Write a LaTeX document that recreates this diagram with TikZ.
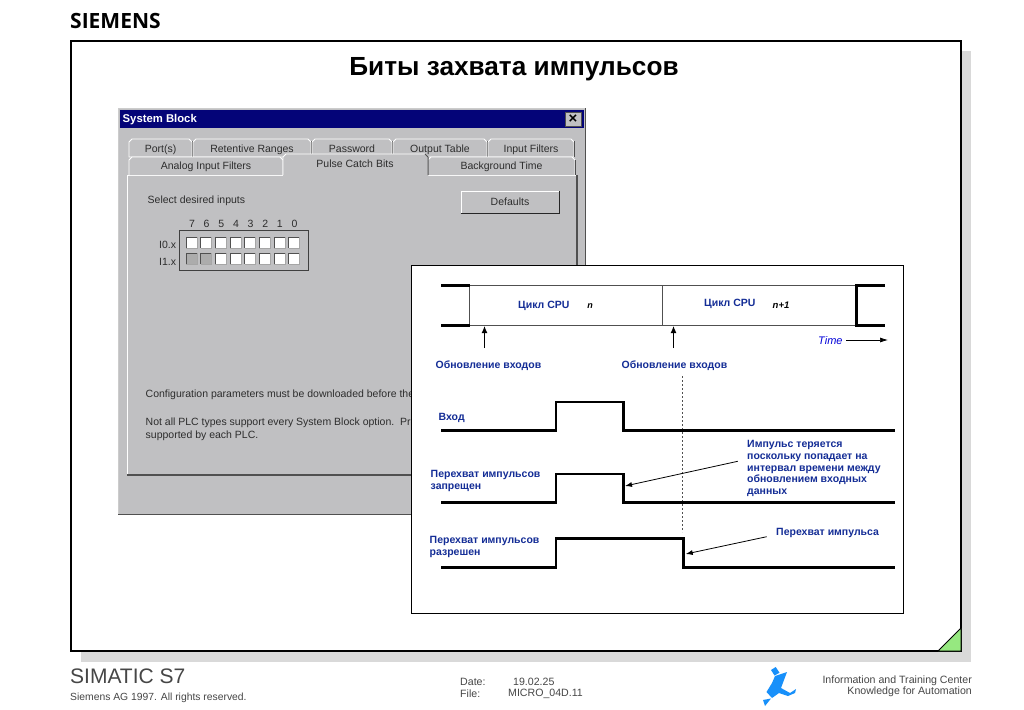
\documentclass[tikz,border=0pt]{standalone}
\usepackage{fontspec}
\setmainfont{Liberation Sans}
\newfontfamily\brandfont{Open Sans}
\usetikzlibrary{arrows.meta}
\definecolor{dlg}{RGB}{192,192,194}
\definecolor{shad}{RGB}{217,217,217}
\definecolor{tbar}{RGB}{4,4,120}
\definecolor{lblue}{RGB}{20,45,150}
\definecolor{corner}{RGB}{150,232,128}
\definecolor{logo}{RGB}{24,144,250}
\definecolor{gtxt}{RGB}{45,45,45}
\definecolor{ftxt}{RGB}{70,70,70}
\definecolor{dkg}{RGB}{80,80,80}
\definecolor{gchk}{RGB}{172,172,172}
\tikzset{
 lbl/.style={font=\fontsize{10.5}{11.6}\selectfont\bfseries,text=lblue,inner sep=0pt,anchor=west,align=left},
 dtxt/.style={font=\fontsize{10.5}{13}\selectfont,text=gtxt,inner sep=0pt,anchor=west,align=left},
 dtab/.style={font=\fontsize{10.5}{11}\selectfont,text=gtxt,inner sep=0pt},
 tabshape/.style={fill=dlg,draw=white,line width=0.8pt},
 sig/.style={line width=2.1pt,line join=miter},
 frameline/.style={line width=1pt,draw=dkg},
 upd/.style={line width=1.1pt,-{Latex[length=7pt,width=6pt]}},
 pointer/.style={line width=0.8pt,-{Latex[length=7pt,width=5pt]}},
 foot/.style={font=\fontsize{10.6}{11}\selectfont,text=ftxt,inner sep=0pt}
}
\newcommand{\chkbox}[3]{%
 \fill[#3] (#1,#2) rectangle +(11,11);
 \draw[dkg,line width=0.8pt] (#1,#2+11) -- (#1,#2) -- (#1+11,#2);
 \draw[gray!70,line width=0.5pt] (#1+11,#2) -- (#1+11,#2+11) -- (#1,#2+11);
}
\begin{document}
\begin{tikzpicture}[x=1pt,y=-1pt]
\useasboundingbox (0,0) rectangle (1024,709);
\fill[white] (0,0) rectangle (1024,709);
% page
\node[font=\fontsize{21}{21}\brandfont\bfseries,inner sep=0pt,anchor=west] (brand) at (70,21) {SIEMENS};
\fill[shad] (81,51) rectangle (971,662);
\draw[fill=white,line width=1.1pt] (71,41) rectangle (961,651);
\fill[corner,draw=black,line width=0.8pt] (938,651) -- (961,628) -- (961,651) -- cycle;
\node[font=\fontsize{26.2}{26.2}\selectfont\bfseries,inner sep=0pt] (title) at (514,69) {Биты захвата импульсов};
% dialog
\fill[dlg] (118.5,108.5) rectangle (585,514);
\draw[gray!40,line width=0.8pt] (118.5,514) -- (118.5,108.5) -- (585,108.5);
\draw[dkg,line width=1pt] (118,514) -- (585,514) -- (585,108);
\fill[tbar] (120,110) rectangle (584,128);
\node[font=\fontsize{11.3}{11.3}\selectfont\bfseries,text=white,inner sep=0pt,anchor=west] (st) at (122.5,120) {System Block};
\node[draw=dkg,fill=dlg,minimum width=16pt,minimum height=14pt,inner sep=0pt,line width=0.5pt,font=\fontsize{15}{15}\selectfont\bfseries] (xb) at (573,119) {×};
% tabs rear
\foreach \a/\b/\n/\c in {129/192/t1/Port(s),193/311/t2/Retentive Ranges,312/392/t3/Password,393/487/t4/Output Table,488/574/t5/Input Filters}{
 \path[tabshape] (\a,157) -- (\a,142) -- (\a+3,139) -- (\b-3,139) -- (\b,142) -- (\b,157) -- cycle;
 \draw[dkg,line width=1pt] (\b,141) -- (\b,157);
 \node[dtab,anchor=base] (\n) at ({(\a+\b)/2},152) {\c};
}
% panel
\fill[dlg] (127,175) rectangle (577,475);
\draw[white,line width=0.9pt] (127,475) -- (127,175) -- (577,175);
\draw[dkg,line width=1.1pt] (127,475) -- (577,475) -- (577,175);
% tabs front
\foreach \a/\b/\n/\c in {129/283/t6/Analog Input Filters,428/575/t7/Background Time}{
 \path[tabshape] (\a,175) -- (\a,160) -- (\a+3,157) -- (\b-3,157) -- (\b,160) -- (\b,175);
 \node[dtab,anchor=base] (\n) at ({(\a+\b)/2},169.5) {\c};
}
\draw[dkg,line width=1pt] (575,160) -- (575,175);
\path[fill=dlg] (283,177) -- (283,157) -- (286,154) -- (425,154) -- (428,157) -- (428,177) -- cycle;
\draw[white,line width=0.9pt] (283,175) -- (283,157) -- (286,154) -- (425,154);
\draw[dkg,line width=1pt] (425,154) -- (428,157) -- (428,175);
\node[dtab,anchor=base] (t8) at (355,167.5) {Pulse Catch Bits};
\node[dtxt] (sel) at (147.5,201) {Select desired inputs};
\node[fill=dlg,minimum width=99pt,minimum height=23pt,inner sep=0pt,font=\fontsize{10.5}{11}\selectfont,text=gtxt] (def) at (510,202) {Defaults};
\draw[white,line width=0.9pt] (461,213) -- (461,191) -- (559.5,191);
\draw[black!85,line width=1.2pt] (460.5,213.5) -- (559.5,213.5) -- (559.5,190.5);
% checkbox group
\foreach \i/\t in {0/7,1/6,2/5,3/4,4/3,5/2,6/1,7/0}
 \node[font=\fontsize{10.5}{11}\selectfont,text=gtxt,inner sep=0pt] (h\i) at ({192+14.65*\i},224) {\t};
\node[dtxt] (i0) at (159,245) {I0.x};
\node[dtxt] (i1) at (159,262) {I1.x};
\draw[black!75,line width=0.9pt,fill=dlg] (179,230) rectangle (308,270);
\foreach \i in {0,...,7}{
 \pgfmathsetmacro{\xx}{186+14.65*\i}
 \chkbox{\xx}{237}{white}
 \ifnum\i<2 \chkbox{\xx}{253}{gchk} \else \chkbox{\xx}{253}{white} \fi
}
\node[dtxt] (cfg) at (145.5,395) {Configuration parameters must be downloaded before the};
\node[dtxt,anchor=north west] (nota) at (145.5,418) {Not all PLC types support every System Block option.\ \ Pre\\supported by each PLC.};
% timing panel
\draw[fill=white,line width=1pt] (411.5,265.5) rectangle (903.5,613.5);
% CPU frame
\draw[frameline] (469.5,285.5) -- (856,285.5);
\draw[frameline] (469.5,325.5) -- (856,325.5);
\draw[frameline] (469.5,285.5) -- (469.5,325.5);
\draw[frameline] (662.5,285.5) -- (662.5,325.5);
\draw[sig] (441,285.5) -- (470,285.5);
\draw[sig] (441,325.5) -- (470,325.5);
\draw[sig] (885,285.5) -- (856.5,285.5) -- (856.5,325.5) -- (885,325.5);
\node[lbl] (c1) at (518,306) {Цикл CPU};
\node[font=\fontsize{9}{9}\selectfont\itshape\bfseries,inner sep=0pt] (n1) at (590,306) {n};
\node[lbl] (c2) at (704,304) {Цикл CPU};
\node[font=\fontsize{9.5}{9.5}\selectfont\itshape\bfseries,inner sep=0pt] (n2) at (781,305) {n+1};
\coordinate (a1s) at (484.5,348); \coordinate (a1e) at (484.5,326);
\coordinate (a2s) at (673.5,348); \coordinate (a2e) at (673.5,326);
\draw[upd] (a1s) -- (a1e);
\draw[upd] (a2s) -- (a2e);
\node[font=\fontsize{11}{11}\selectfont\itshape,text=blue!85!black,inner sep=0pt,anchor=west] (tm) at (818,340.5) {Time};
\coordinate (tms) at (846,340);
\coordinate (tme) at (888,340);
\draw[line width=0.7pt,-{Latex[length=8pt,width=5pt]}] (tms) -- (tme);
\node[lbl] (u1) at (435.5,366) {Обновление входов};
\node[lbl] (u2) at (621.5,366) {Обновление входов};
\node[lbl] (vx) at (438.5,418) {Вход};
\node[lbl,anchor=north west] (z) at (430.5,470) {Перехват импульсов\\запрещен};
\node[lbl,anchor=north west] (r) at (429.5,536) {Перехват импульсов\\разрешен};
\draw[dkg,line width=0.7pt,dash pattern=on 2pt off 2pt] (682.5,376) -- (682.5,532);
% signals
\draw[sig] (441,430.5) -- (556,430.5) -- (556,402) -- (623.5,402) -- (623.5,430.5) -- (895,430.5);
\draw[sig] (441,502.5) -- (556,502.5) -- (556,474) -- (623.5,474) -- (623.5,502.5) -- (895,502.5);
\draw[sig] (441,567.5) -- (556,567.5) -- (556,538.5) -- (683.5,538.5) -- (683.5,567.5) -- (895,567.5);
\node[lbl,anchor=north west] (imp) at (747,440.5) {Импульс теряется\\поскольку попадает на\\интервал времени между\\обновлением входных\\данных};
\node[lbl] (cap) at (776,533) {Перехват импульса};
\coordinate (p1s) at (737.7,461.3); \coordinate (p1e) at (625,486);
\coordinate (p2s) at (766.7,536.7); \coordinate (p2e) at (685.7,554);
\draw[pointer] (p1s) -- (p1e);
\draw[pointer] (p2s) -- (p2e);
% footer
\node[font=\fontsize{21}{21}\selectfont,text=ftxt,inner sep=0pt,anchor=west] (sim) at (70,676.5) {SIMATIC S7};
\node[foot,anchor=west,font=\fontsize{10.35}{11}\selectfont] (ag) at (70,697.5) {Siemens AG 1997. All rights reserved.};
\node[foot,anchor=west] (dl) at (460,681.5) {Date:};
\node[foot,anchor=west] (dv) at (513,681.5) {19.02.25};
\node[foot,anchor=west] (fl) at (460,694) {File:};
\node[foot,anchor=west] (fv) at (508,694) {MICRO\_04D.11};
\node[foot,anchor=east] (i1t) at (972,680.5) {Information and Training Center};
\node[foot,anchor=east] (i2t) at (972,691.5) {Knowledge for Automation};
% logo
\fill[logo] (771,670) -- (775.7,667) -- (779.5,672.7) -- (774.5,675.5) -- cycle;
\fill[logo] (775,676) -- (787,672) -- (781,688) -- (790,693) -- (796,689) -- (795,693) -- (788,696) -- (779,693) -- (772,698) -- (766.5,692) -- (772,683) -- cycle;
\fill[logo] (763,700) -- (771,698.5) -- (765,706) -- cycle;
\end{tikzpicture}
\end{document}
